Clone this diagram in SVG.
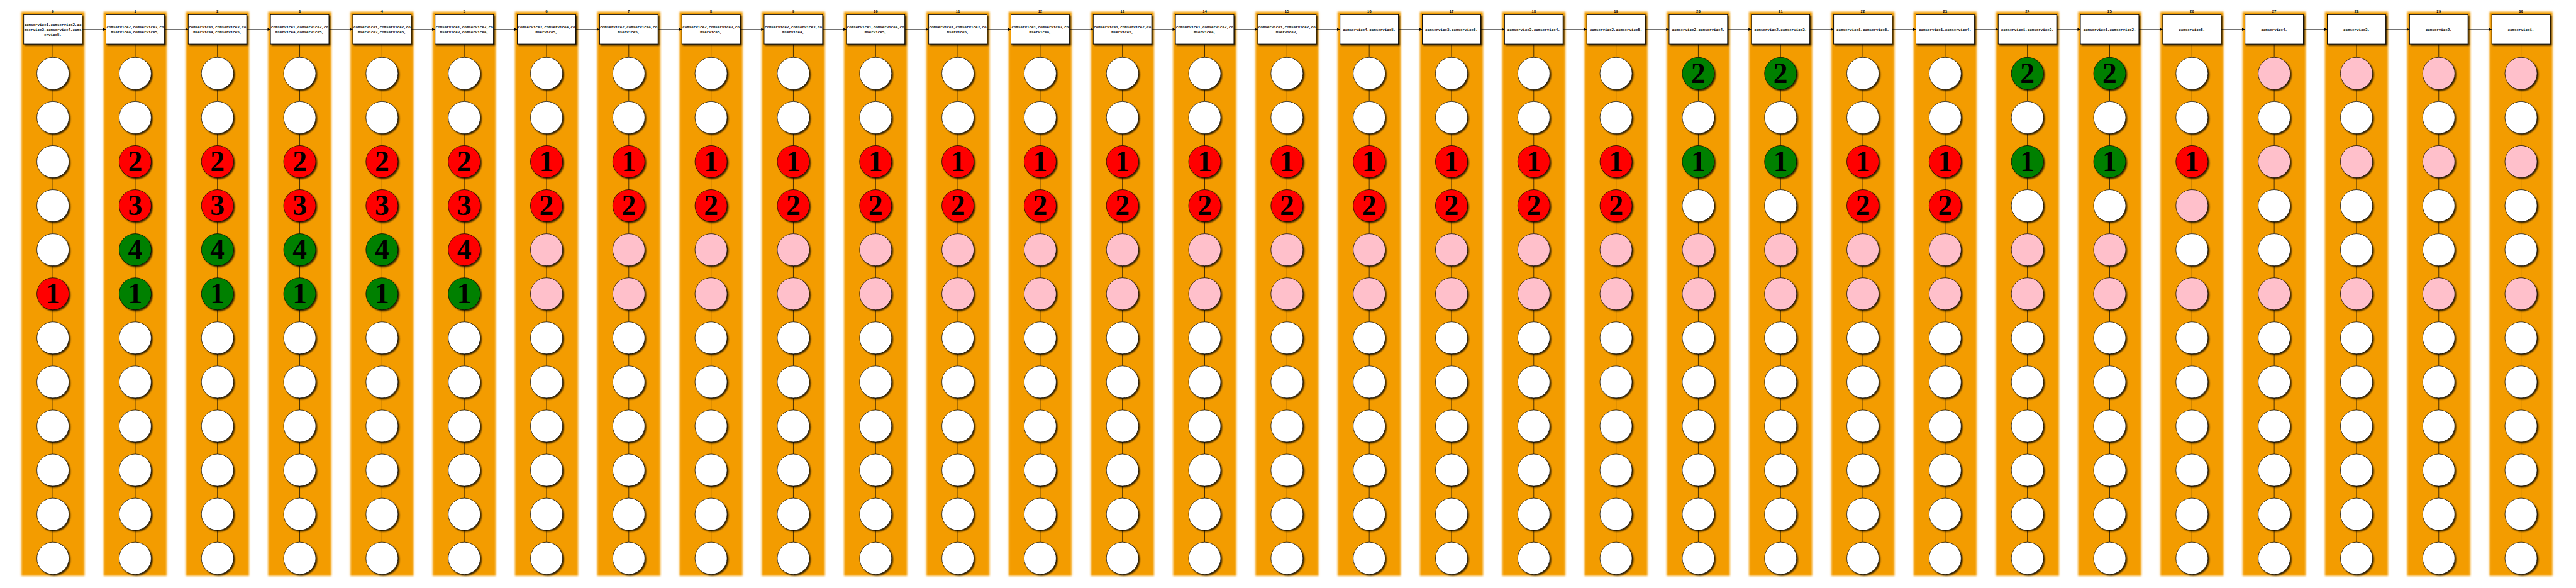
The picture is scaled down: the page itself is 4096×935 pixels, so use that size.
<svg xmlns="http://www.w3.org/2000/svg" width="4096" height="935" viewBox="0 0 4096 935">
<defs>
<style>
.band{fill:#f39c06;filter:url(#fb)}
.bx{fill:#fff;stroke:#000;stroke-width:1.5;filter:url(#sh)}
.ci{stroke:#000;stroke-width:1.2;filter:url(#sh)}
.w{fill:#fff}.r{fill:#f00}.g{fill:#008000}.p{fill:#ffc0cb}
.t{font-family:"Liberation Mono","DejaVu Sans Mono",monospace;font-weight:bold;font-size:10px;text-anchor:middle;fill:#000}
.d{font-family:"Liberation Serif","DejaVu Serif",serif;font-weight:bold;font-size:78px;text-anchor:middle;fill:#000}
#connectors line{stroke:#000;stroke-width:1.2;fill:none}
#connectors .ar{marker-end:url(#ah)}
</style>
<filter id="fb" x="-10%" y="-2%" width="120%" height="104%"><feGaussianBlur stdDeviation="2.5"/></filter>
<filter id="sh" x="-20%" y="-20%" width="150%" height="150%">
<feGaussianBlur in="SourceAlpha" stdDeviation="2"/><feOffset dx="3" dy="4" result="b"/>
<feFlood flood-color="#000" flood-opacity="0.75"/><feComposite in2="b" operator="in"/>
<feMerge><feMergeNode/><feMergeNode in="SourceGraphic"/></feMerge>
</filter>
<marker id="ah" markerUnits="userSpaceOnUse" markerWidth="9" markerHeight="9" refX="8" refY="4" orient="auto"><path d="M0,0L8,4L0,8z" fill="#000"/></marker>
</defs>
<rect width="4096" height="935" fill="#fff"/>
<g transform="scale(0.584)">
<g id="bands">
<rect class="band" x="58" y="32" width="172" height="1536"/>
<rect class="band" x="282" y="32" width="172" height="1536"/>
<rect class="band" x="506" y="32" width="172" height="1536"/>
<rect class="band" x="730" y="32" width="172" height="1536"/>
<rect class="band" x="954" y="32" width="172" height="1536"/>
<rect class="band" x="1178" y="32" width="172" height="1536"/>
<rect class="band" x="1402" y="32" width="172" height="1536"/>
<rect class="band" x="1626" y="32" width="172" height="1536"/>
<rect class="band" x="1850" y="32" width="172" height="1536"/>
<rect class="band" x="2074" y="32" width="172" height="1536"/>
<rect class="band" x="2298" y="32" width="172" height="1536"/>
<rect class="band" x="2522" y="32" width="172" height="1536"/>
<rect class="band" x="2746" y="32" width="172" height="1536"/>
<rect class="band" x="2970" y="32" width="172" height="1536"/>
<rect class="band" x="3194" y="32" width="172" height="1536"/>
<rect class="band" x="3418" y="32" width="172" height="1536"/>
<rect class="band" x="3642" y="32" width="172" height="1536"/>
<rect class="band" x="3866" y="32" width="172" height="1536"/>
<rect class="band" x="4090" y="32" width="172" height="1536"/>
<rect class="band" x="4314" y="32" width="172" height="1536"/>
<rect class="band" x="4538" y="32" width="172" height="1536"/>
<rect class="band" x="4762" y="32" width="172" height="1536"/>
<rect class="band" x="4986" y="32" width="172" height="1536"/>
<rect class="band" x="5210" y="32" width="172" height="1536"/>
<rect class="band" x="5434" y="32" width="172" height="1536"/>
<rect class="band" x="5658" y="32" width="172" height="1536"/>
<rect class="band" x="5882" y="32" width="172" height="1536"/>
<rect class="band" x="6106" y="32" width="172" height="1536"/>
<rect class="band" x="6330" y="32" width="172" height="1536"/>
<rect class="band" x="6554" y="32" width="172" height="1536"/>
<rect class="band" x="6778" y="32" width="172" height="1536"/>
</g>
<g id="labels">
<text class="t" x="144" y="34">0</text><text class="t" x="368" y="34">1</text><text class="t" x="592" y="34">2</text><text class="t" x="816" y="34">3</text><text class="t" x="1040" y="34">4</text><text class="t" x="1264" y="34">5</text><text class="t" x="1488" y="34">6</text><text class="t" x="1712" y="34">7</text><text class="t" x="1936" y="34">8</text><text class="t" x="2160" y="34">9</text><text class="t" x="2384" y="34">10</text><text class="t" x="2608" y="34">11</text><text class="t" x="2832" y="34">12</text><text class="t" x="3056" y="34">13</text><text class="t" x="3280" y="34">14</text><text class="t" x="3504" y="34">15</text><text class="t" x="3728" y="34">16</text><text class="t" x="3952" y="34">17</text><text class="t" x="4176" y="34">18</text><text class="t" x="4400" y="34">19</text><text class="t" x="4624" y="34">20</text><text class="t" x="4848" y="34">21</text><text class="t" x="5072" y="34">22</text><text class="t" x="5296" y="34">23</text><text class="t" x="5520" y="34">24</text><text class="t" x="5744" y="34">25</text><text class="t" x="5968" y="34">26</text><text class="t" x="6192" y="34">27</text><text class="t" x="6416" y="34">28</text><text class="t" x="6640" y="34">29</text><text class="t" x="6864" y="34">30</text>
</g>
<g id="connectors">
<line x1="144" y1="120" x2="144" y2="1476"/><line x1="368" y1="120" x2="368" y2="1476"/><line x1="592" y1="120" x2="592" y2="1476"/><line x1="816" y1="120" x2="816" y2="1476"/><line x1="1040" y1="120" x2="1040" y2="1476"/><line x1="1264" y1="120" x2="1264" y2="1476"/><line x1="1488" y1="120" x2="1488" y2="1476"/><line x1="1712" y1="120" x2="1712" y2="1476"/><line x1="1936" y1="120" x2="1936" y2="1476"/><line x1="2160" y1="120" x2="2160" y2="1476"/><line x1="2384" y1="120" x2="2384" y2="1476"/><line x1="2608" y1="120" x2="2608" y2="1476"/><line x1="2832" y1="120" x2="2832" y2="1476"/><line x1="3056" y1="120" x2="3056" y2="1476"/><line x1="3280" y1="120" x2="3280" y2="1476"/><line x1="3504" y1="120" x2="3504" y2="1476"/><line x1="3728" y1="120" x2="3728" y2="1476"/><line x1="3952" y1="120" x2="3952" y2="1476"/><line x1="4176" y1="120" x2="4176" y2="1476"/><line x1="4400" y1="120" x2="4400" y2="1476"/><line x1="4624" y1="120" x2="4624" y2="1476"/><line x1="4848" y1="120" x2="4848" y2="1476"/><line x1="5072" y1="120" x2="5072" y2="1476"/><line x1="5296" y1="120" x2="5296" y2="1476"/><line x1="5520" y1="120" x2="5520" y2="1476"/><line x1="5744" y1="120" x2="5744" y2="1476"/><line x1="5968" y1="120" x2="5968" y2="1476"/><line x1="6192" y1="120" x2="6192" y2="1476"/><line x1="6416" y1="120" x2="6416" y2="1476"/><line x1="6640" y1="120" x2="6640" y2="1476"/><line x1="6864" y1="120" x2="6864" y2="1476"/>
<line class="ar" x1="223.5" y1="80" x2="288.5" y2="80"/><line class="ar" x1="447.5" y1="80" x2="512.5" y2="80"/><line class="ar" x1="671.5" y1="80" x2="736.5" y2="80"/><line class="ar" x1="895.5" y1="80" x2="960.5" y2="80"/><line class="ar" x1="1119.5" y1="80" x2="1184.5" y2="80"/><line class="ar" x1="1343.5" y1="80" x2="1408.5" y2="80"/><line class="ar" x1="1567.5" y1="80" x2="1632.5" y2="80"/><line class="ar" x1="1791.5" y1="80" x2="1856.5" y2="80"/><line class="ar" x1="2015.5" y1="80" x2="2080.5" y2="80"/><line class="ar" x1="2239.5" y1="80" x2="2304.5" y2="80"/><line class="ar" x1="2463.5" y1="80" x2="2528.5" y2="80"/><line class="ar" x1="2687.5" y1="80" x2="2752.5" y2="80"/><line class="ar" x1="2911.5" y1="80" x2="2976.5" y2="80"/><line class="ar" x1="3135.5" y1="80" x2="3200.5" y2="80"/><line class="ar" x1="3359.5" y1="80" x2="3424.5" y2="80"/><line class="ar" x1="3583.5" y1="80" x2="3648.5" y2="80"/><line class="ar" x1="3807.5" y1="80" x2="3872.5" y2="80"/><line class="ar" x1="4031.5" y1="80" x2="4096.5" y2="80"/><line class="ar" x1="4255.5" y1="80" x2="4320.5" y2="80"/><line class="ar" x1="4479.5" y1="80" x2="4544.5" y2="80"/><line class="ar" x1="4703.5" y1="80" x2="4768.5" y2="80"/><line class="ar" x1="4927.5" y1="80" x2="4992.5" y2="80"/><line class="ar" x1="5151.5" y1="80" x2="5216.5" y2="80"/><line class="ar" x1="5375.5" y1="80" x2="5440.5" y2="80"/><line class="ar" x1="5599.5" y1="80" x2="5664.5" y2="80"/><line class="ar" x1="5823.5" y1="80" x2="5888.5" y2="80"/><line class="ar" x1="6047.5" y1="80" x2="6112.5" y2="80"/><line class="ar" x1="6271.5" y1="80" x2="6336.5" y2="80"/><line class="ar" x1="6495.5" y1="80" x2="6560.5" y2="80"/><line class="ar" x1="6719.5" y1="80" x2="6784.5" y2="80"/>
</g>
<g id="nodes">
<g id="col0" transform="translate(144,0)">
<g id="box0"><rect class="bx" x="-79.5" y="40" width="159" height="80"/><text class="t" y="71">comservice1,comservice2,co</text><text class="t" y="84">mservice3,comservice4,coms</text><text class="t" y="97">ervice5,</text></g>
<g id="n0_0"><circle class="ci w" cy="200" r="43.7"/></g><g id="n0_1"><circle class="ci w" cy="320" r="43.7"/></g><g id="n0_2"><circle class="ci w" cy="440" r="43.7"/></g><g id="n0_3"><circle class="ci w" cy="560" r="43.7"/></g><g id="n0_4"><circle class="ci w" cy="680" r="43.7"/></g><g id="n0_5"><circle class="ci r" cy="800" r="43.7"/><text class="d" y="826">1</text></g>
<g id="n0_6"><circle class="ci w" cy="920" r="43.7"/></g><g id="n0_7"><circle class="ci w" cy="1040" r="43.7"/></g><g id="n0_8"><circle class="ci w" cy="1160" r="43.7"/></g><g id="n0_9"><circle class="ci w" cy="1280" r="43.7"/></g><g id="n0_10"><circle class="ci w" cy="1400" r="43.7"/></g><g id="n0_11"><circle class="ci w" cy="1520" r="43.7"/></g>
</g>
<g id="col1" transform="translate(368,0)">
<g id="box1"><rect class="bx" x="-79.5" y="40" width="159" height="80"/><text class="t" y="77.5">comservice2,comservice3,co</text><text class="t" y="90.5">mservice4,comservice5,</text></g>
<g id="n1_0"><circle class="ci w" cy="200" r="43.7"/></g><g id="n1_1"><circle class="ci w" cy="320" r="43.7"/></g><g id="n1_2"><circle class="ci r" cy="440" r="43.7"/><text class="d" y="466">2</text></g><g id="n1_3"><circle class="ci r" cy="560" r="43.7"/><text class="d" y="586">3</text></g><g id="n1_4"><circle class="ci g" cy="680" r="43.7"/><text class="d" y="706">4</text></g><g id="n1_5"><circle class="ci g" cy="800" r="43.7"/><text class="d" y="826">1</text></g>
<g id="n1_6"><circle class="ci w" cy="920" r="43.7"/></g><g id="n1_7"><circle class="ci w" cy="1040" r="43.7"/></g><g id="n1_8"><circle class="ci w" cy="1160" r="43.7"/></g><g id="n1_9"><circle class="ci w" cy="1280" r="43.7"/></g><g id="n1_10"><circle class="ci w" cy="1400" r="43.7"/></g><g id="n1_11"><circle class="ci w" cy="1520" r="43.7"/></g>
</g>
<g id="col2" transform="translate(592,0)">
<g id="box2"><rect class="bx" x="-79.5" y="40" width="159" height="80"/><text class="t" y="77.5">comservice1,comservice3,co</text><text class="t" y="90.5">mservice4,comservice5,</text></g>
<g id="n2_0"><circle class="ci w" cy="200" r="43.7"/></g><g id="n2_1"><circle class="ci w" cy="320" r="43.7"/></g><g id="n2_2"><circle class="ci r" cy="440" r="43.7"/><text class="d" y="466">2</text></g><g id="n2_3"><circle class="ci r" cy="560" r="43.7"/><text class="d" y="586">3</text></g><g id="n2_4"><circle class="ci g" cy="680" r="43.7"/><text class="d" y="706">4</text></g><g id="n2_5"><circle class="ci g" cy="800" r="43.7"/><text class="d" y="826">1</text></g>
<g id="n2_6"><circle class="ci w" cy="920" r="43.7"/></g><g id="n2_7"><circle class="ci w" cy="1040" r="43.7"/></g><g id="n2_8"><circle class="ci w" cy="1160" r="43.7"/></g><g id="n2_9"><circle class="ci w" cy="1280" r="43.7"/></g><g id="n2_10"><circle class="ci w" cy="1400" r="43.7"/></g><g id="n2_11"><circle class="ci w" cy="1520" r="43.7"/></g>
</g>
<g id="col3" transform="translate(816,0)">
<g id="box3"><rect class="bx" x="-79.5" y="40" width="159" height="80"/><text class="t" y="77.5">comservice1,comservice2,co</text><text class="t" y="90.5">mservice4,comservice5,</text></g>
<g id="n3_0"><circle class="ci w" cy="200" r="43.7"/></g><g id="n3_1"><circle class="ci w" cy="320" r="43.7"/></g><g id="n3_2"><circle class="ci r" cy="440" r="43.7"/><text class="d" y="466">2</text></g><g id="n3_3"><circle class="ci r" cy="560" r="43.7"/><text class="d" y="586">3</text></g><g id="n3_4"><circle class="ci g" cy="680" r="43.7"/><text class="d" y="706">4</text></g><g id="n3_5"><circle class="ci g" cy="800" r="43.7"/><text class="d" y="826">1</text></g>
<g id="n3_6"><circle class="ci w" cy="920" r="43.7"/></g><g id="n3_7"><circle class="ci w" cy="1040" r="43.7"/></g><g id="n3_8"><circle class="ci w" cy="1160" r="43.7"/></g><g id="n3_9"><circle class="ci w" cy="1280" r="43.7"/></g><g id="n3_10"><circle class="ci w" cy="1400" r="43.7"/></g><g id="n3_11"><circle class="ci w" cy="1520" r="43.7"/></g>
</g>
<g id="col4" transform="translate(1040,0)">
<g id="box4"><rect class="bx" x="-79.5" y="40" width="159" height="80"/><text class="t" y="77.5">comservice1,comservice2,co</text><text class="t" y="90.5">mservice3,comservice5,</text></g>
<g id="n4_0"><circle class="ci w" cy="200" r="43.7"/></g><g id="n4_1"><circle class="ci w" cy="320" r="43.7"/></g><g id="n4_2"><circle class="ci r" cy="440" r="43.7"/><text class="d" y="466">2</text></g><g id="n4_3"><circle class="ci r" cy="560" r="43.7"/><text class="d" y="586">3</text></g><g id="n4_4"><circle class="ci g" cy="680" r="43.7"/><text class="d" y="706">4</text></g><g id="n4_5"><circle class="ci g" cy="800" r="43.7"/><text class="d" y="826">1</text></g>
<g id="n4_6"><circle class="ci w" cy="920" r="43.7"/></g><g id="n4_7"><circle class="ci w" cy="1040" r="43.7"/></g><g id="n4_8"><circle class="ci w" cy="1160" r="43.7"/></g><g id="n4_9"><circle class="ci w" cy="1280" r="43.7"/></g><g id="n4_10"><circle class="ci w" cy="1400" r="43.7"/></g><g id="n4_11"><circle class="ci w" cy="1520" r="43.7"/></g>
</g>
<g id="col5" transform="translate(1264,0)">
<g id="box5"><rect class="bx" x="-79.5" y="40" width="159" height="80"/><text class="t" y="77.5">comservice1,comservice2,co</text><text class="t" y="90.5">mservice3,comservice4,</text></g>
<g id="n5_0"><circle class="ci w" cy="200" r="43.7"/></g><g id="n5_1"><circle class="ci w" cy="320" r="43.7"/></g><g id="n5_2"><circle class="ci r" cy="440" r="43.7"/><text class="d" y="466">2</text></g><g id="n5_3"><circle class="ci r" cy="560" r="43.7"/><text class="d" y="586">3</text></g><g id="n5_4"><circle class="ci r" cy="680" r="43.7"/><text class="d" y="706">4</text></g><g id="n5_5"><circle class="ci g" cy="800" r="43.7"/><text class="d" y="826">1</text></g>
<g id="n5_6"><circle class="ci w" cy="920" r="43.7"/></g><g id="n5_7"><circle class="ci w" cy="1040" r="43.7"/></g><g id="n5_8"><circle class="ci w" cy="1160" r="43.7"/></g><g id="n5_9"><circle class="ci w" cy="1280" r="43.7"/></g><g id="n5_10"><circle class="ci w" cy="1400" r="43.7"/></g><g id="n5_11"><circle class="ci w" cy="1520" r="43.7"/></g>
</g>
<g id="col6" transform="translate(1488,0)">
<g id="box6"><rect class="bx" x="-79.5" y="40" width="159" height="80"/><text class="t" y="77.5">comservice3,comservice4,co</text><text class="t" y="90.5">mservice5,</text></g>
<g id="n6_0"><circle class="ci w" cy="200" r="43.7"/></g><g id="n6_1"><circle class="ci w" cy="320" r="43.7"/></g><g id="n6_2"><circle class="ci r" cy="440" r="43.7"/><text class="d" y="466">1</text></g><g id="n6_3"><circle class="ci r" cy="560" r="43.7"/><text class="d" y="586">2</text></g><g id="n6_4"><circle class="ci p" cy="680" r="43.7"/></g><g id="n6_5"><circle class="ci p" cy="800" r="43.7"/></g>
<g id="n6_6"><circle class="ci w" cy="920" r="43.7"/></g><g id="n6_7"><circle class="ci w" cy="1040" r="43.7"/></g><g id="n6_8"><circle class="ci w" cy="1160" r="43.7"/></g><g id="n6_9"><circle class="ci w" cy="1280" r="43.7"/></g><g id="n6_10"><circle class="ci w" cy="1400" r="43.7"/></g><g id="n6_11"><circle class="ci w" cy="1520" r="43.7"/></g>
</g>
<g id="col7" transform="translate(1712,0)">
<g id="box7"><rect class="bx" x="-79.5" y="40" width="159" height="80"/><text class="t" y="77.5">comservice2,comservice4,co</text><text class="t" y="90.5">mservice5,</text></g>
<g id="n7_0"><circle class="ci w" cy="200" r="43.7"/></g><g id="n7_1"><circle class="ci w" cy="320" r="43.7"/></g><g id="n7_2"><circle class="ci r" cy="440" r="43.7"/><text class="d" y="466">1</text></g><g id="n7_3"><circle class="ci r" cy="560" r="43.7"/><text class="d" y="586">2</text></g><g id="n7_4"><circle class="ci p" cy="680" r="43.7"/></g><g id="n7_5"><circle class="ci p" cy="800" r="43.7"/></g>
<g id="n7_6"><circle class="ci w" cy="920" r="43.7"/></g><g id="n7_7"><circle class="ci w" cy="1040" r="43.7"/></g><g id="n7_8"><circle class="ci w" cy="1160" r="43.7"/></g><g id="n7_9"><circle class="ci w" cy="1280" r="43.7"/></g><g id="n7_10"><circle class="ci w" cy="1400" r="43.7"/></g><g id="n7_11"><circle class="ci w" cy="1520" r="43.7"/></g>
</g>
<g id="col8" transform="translate(1936,0)">
<g id="box8"><rect class="bx" x="-79.5" y="40" width="159" height="80"/><text class="t" y="77.5">comservice2,comservice3,co</text><text class="t" y="90.5">mservice5,</text></g>
<g id="n8_0"><circle class="ci w" cy="200" r="43.7"/></g><g id="n8_1"><circle class="ci w" cy="320" r="43.7"/></g><g id="n8_2"><circle class="ci r" cy="440" r="43.7"/><text class="d" y="466">1</text></g><g id="n8_3"><circle class="ci r" cy="560" r="43.7"/><text class="d" y="586">2</text></g><g id="n8_4"><circle class="ci p" cy="680" r="43.7"/></g><g id="n8_5"><circle class="ci p" cy="800" r="43.7"/></g>
<g id="n8_6"><circle class="ci w" cy="920" r="43.7"/></g><g id="n8_7"><circle class="ci w" cy="1040" r="43.7"/></g><g id="n8_8"><circle class="ci w" cy="1160" r="43.7"/></g><g id="n8_9"><circle class="ci w" cy="1280" r="43.7"/></g><g id="n8_10"><circle class="ci w" cy="1400" r="43.7"/></g><g id="n8_11"><circle class="ci w" cy="1520" r="43.7"/></g>
</g>
<g id="col9" transform="translate(2160,0)">
<g id="box9"><rect class="bx" x="-79.5" y="40" width="159" height="80"/><text class="t" y="77.5">comservice2,comservice3,co</text><text class="t" y="90.5">mservice4,</text></g>
<g id="n9_0"><circle class="ci w" cy="200" r="43.7"/></g><g id="n9_1"><circle class="ci w" cy="320" r="43.7"/></g><g id="n9_2"><circle class="ci r" cy="440" r="43.7"/><text class="d" y="466">1</text></g><g id="n9_3"><circle class="ci r" cy="560" r="43.7"/><text class="d" y="586">2</text></g><g id="n9_4"><circle class="ci p" cy="680" r="43.7"/></g><g id="n9_5"><circle class="ci p" cy="800" r="43.7"/></g>
<g id="n9_6"><circle class="ci w" cy="920" r="43.7"/></g><g id="n9_7"><circle class="ci w" cy="1040" r="43.7"/></g><g id="n9_8"><circle class="ci w" cy="1160" r="43.7"/></g><g id="n9_9"><circle class="ci w" cy="1280" r="43.7"/></g><g id="n9_10"><circle class="ci w" cy="1400" r="43.7"/></g><g id="n9_11"><circle class="ci w" cy="1520" r="43.7"/></g>
</g>
<g id="col10" transform="translate(2384,0)">
<g id="box10"><rect class="bx" x="-79.5" y="40" width="159" height="80"/><text class="t" y="77.5">comservice1,comservice4,co</text><text class="t" y="90.5">mservice5,</text></g>
<g id="n10_0"><circle class="ci w" cy="200" r="43.7"/></g><g id="n10_1"><circle class="ci w" cy="320" r="43.7"/></g><g id="n10_2"><circle class="ci r" cy="440" r="43.7"/><text class="d" y="466">1</text></g><g id="n10_3"><circle class="ci r" cy="560" r="43.7"/><text class="d" y="586">2</text></g><g id="n10_4"><circle class="ci p" cy="680" r="43.7"/></g><g id="n10_5"><circle class="ci p" cy="800" r="43.7"/></g>
<g id="n10_6"><circle class="ci w" cy="920" r="43.7"/></g><g id="n10_7"><circle class="ci w" cy="1040" r="43.7"/></g><g id="n10_8"><circle class="ci w" cy="1160" r="43.7"/></g><g id="n10_9"><circle class="ci w" cy="1280" r="43.7"/></g><g id="n10_10"><circle class="ci w" cy="1400" r="43.7"/></g><g id="n10_11"><circle class="ci w" cy="1520" r="43.7"/></g>
</g>
<g id="col11" transform="translate(2608,0)">
<g id="box11"><rect class="bx" x="-79.5" y="40" width="159" height="80"/><text class="t" y="77.5">comservice1,comservice3,co</text><text class="t" y="90.5">mservice5,</text></g>
<g id="n11_0"><circle class="ci w" cy="200" r="43.7"/></g><g id="n11_1"><circle class="ci w" cy="320" r="43.7"/></g><g id="n11_2"><circle class="ci r" cy="440" r="43.7"/><text class="d" y="466">1</text></g><g id="n11_3"><circle class="ci r" cy="560" r="43.7"/><text class="d" y="586">2</text></g><g id="n11_4"><circle class="ci p" cy="680" r="43.7"/></g><g id="n11_5"><circle class="ci p" cy="800" r="43.7"/></g>
<g id="n11_6"><circle class="ci w" cy="920" r="43.7"/></g><g id="n11_7"><circle class="ci w" cy="1040" r="43.7"/></g><g id="n11_8"><circle class="ci w" cy="1160" r="43.7"/></g><g id="n11_9"><circle class="ci w" cy="1280" r="43.7"/></g><g id="n11_10"><circle class="ci w" cy="1400" r="43.7"/></g><g id="n11_11"><circle class="ci w" cy="1520" r="43.7"/></g>
</g>
<g id="col12" transform="translate(2832,0)">
<g id="box12"><rect class="bx" x="-79.5" y="40" width="159" height="80"/><text class="t" y="77.5">comservice1,comservice3,co</text><text class="t" y="90.5">mservice4,</text></g>
<g id="n12_0"><circle class="ci w" cy="200" r="43.7"/></g><g id="n12_1"><circle class="ci w" cy="320" r="43.7"/></g><g id="n12_2"><circle class="ci r" cy="440" r="43.7"/><text class="d" y="466">1</text></g><g id="n12_3"><circle class="ci r" cy="560" r="43.7"/><text class="d" y="586">2</text></g><g id="n12_4"><circle class="ci p" cy="680" r="43.7"/></g><g id="n12_5"><circle class="ci p" cy="800" r="43.7"/></g>
<g id="n12_6"><circle class="ci w" cy="920" r="43.7"/></g><g id="n12_7"><circle class="ci w" cy="1040" r="43.7"/></g><g id="n12_8"><circle class="ci w" cy="1160" r="43.7"/></g><g id="n12_9"><circle class="ci w" cy="1280" r="43.7"/></g><g id="n12_10"><circle class="ci w" cy="1400" r="43.7"/></g><g id="n12_11"><circle class="ci w" cy="1520" r="43.7"/></g>
</g>
<g id="col13" transform="translate(3056,0)">
<g id="box13"><rect class="bx" x="-79.5" y="40" width="159" height="80"/><text class="t" y="77.5">comservice1,comservice2,co</text><text class="t" y="90.5">mservice5,</text></g>
<g id="n13_0"><circle class="ci w" cy="200" r="43.7"/></g><g id="n13_1"><circle class="ci w" cy="320" r="43.7"/></g><g id="n13_2"><circle class="ci r" cy="440" r="43.7"/><text class="d" y="466">1</text></g><g id="n13_3"><circle class="ci r" cy="560" r="43.7"/><text class="d" y="586">2</text></g><g id="n13_4"><circle class="ci p" cy="680" r="43.7"/></g><g id="n13_5"><circle class="ci p" cy="800" r="43.7"/></g>
<g id="n13_6"><circle class="ci w" cy="920" r="43.7"/></g><g id="n13_7"><circle class="ci w" cy="1040" r="43.7"/></g><g id="n13_8"><circle class="ci w" cy="1160" r="43.7"/></g><g id="n13_9"><circle class="ci w" cy="1280" r="43.7"/></g><g id="n13_10"><circle class="ci w" cy="1400" r="43.7"/></g><g id="n13_11"><circle class="ci w" cy="1520" r="43.7"/></g>
</g>
<g id="col14" transform="translate(3280,0)">
<g id="box14"><rect class="bx" x="-79.5" y="40" width="159" height="80"/><text class="t" y="77.5">comservice1,comservice2,co</text><text class="t" y="90.5">mservice4,</text></g>
<g id="n14_0"><circle class="ci w" cy="200" r="43.7"/></g><g id="n14_1"><circle class="ci w" cy="320" r="43.7"/></g><g id="n14_2"><circle class="ci r" cy="440" r="43.7"/><text class="d" y="466">1</text></g><g id="n14_3"><circle class="ci r" cy="560" r="43.7"/><text class="d" y="586">2</text></g><g id="n14_4"><circle class="ci p" cy="680" r="43.7"/></g><g id="n14_5"><circle class="ci p" cy="800" r="43.7"/></g>
<g id="n14_6"><circle class="ci w" cy="920" r="43.7"/></g><g id="n14_7"><circle class="ci w" cy="1040" r="43.7"/></g><g id="n14_8"><circle class="ci w" cy="1160" r="43.7"/></g><g id="n14_9"><circle class="ci w" cy="1280" r="43.7"/></g><g id="n14_10"><circle class="ci w" cy="1400" r="43.7"/></g><g id="n14_11"><circle class="ci w" cy="1520" r="43.7"/></g>
</g>
<g id="col15" transform="translate(3504,0)">
<g id="box15"><rect class="bx" x="-79.5" y="40" width="159" height="80"/><text class="t" y="77.5">comservice1,comservice2,co</text><text class="t" y="90.5">mservice3,</text></g>
<g id="n15_0"><circle class="ci w" cy="200" r="43.7"/></g><g id="n15_1"><circle class="ci w" cy="320" r="43.7"/></g><g id="n15_2"><circle class="ci r" cy="440" r="43.7"/><text class="d" y="466">1</text></g><g id="n15_3"><circle class="ci r" cy="560" r="43.7"/><text class="d" y="586">2</text></g><g id="n15_4"><circle class="ci p" cy="680" r="43.7"/></g><g id="n15_5"><circle class="ci p" cy="800" r="43.7"/></g>
<g id="n15_6"><circle class="ci w" cy="920" r="43.7"/></g><g id="n15_7"><circle class="ci w" cy="1040" r="43.7"/></g><g id="n15_8"><circle class="ci w" cy="1160" r="43.7"/></g><g id="n15_9"><circle class="ci w" cy="1280" r="43.7"/></g><g id="n15_10"><circle class="ci w" cy="1400" r="43.7"/></g><g id="n15_11"><circle class="ci w" cy="1520" r="43.7"/></g>
</g>
<g id="col16" transform="translate(3728,0)">
<g id="box16"><rect class="bx" x="-79.5" y="40" width="159" height="80"/><text class="t" y="84">comservice4,comservice5,</text></g>
<g id="n16_0"><circle class="ci w" cy="200" r="43.7"/></g><g id="n16_1"><circle class="ci w" cy="320" r="43.7"/></g><g id="n16_2"><circle class="ci r" cy="440" r="43.7"/><text class="d" y="466">1</text></g><g id="n16_3"><circle class="ci r" cy="560" r="43.7"/><text class="d" y="586">2</text></g><g id="n16_4"><circle class="ci p" cy="680" r="43.7"/></g><g id="n16_5"><circle class="ci p" cy="800" r="43.7"/></g>
<g id="n16_6"><circle class="ci w" cy="920" r="43.7"/></g><g id="n16_7"><circle class="ci w" cy="1040" r="43.7"/></g><g id="n16_8"><circle class="ci w" cy="1160" r="43.7"/></g><g id="n16_9"><circle class="ci w" cy="1280" r="43.7"/></g><g id="n16_10"><circle class="ci w" cy="1400" r="43.7"/></g><g id="n16_11"><circle class="ci w" cy="1520" r="43.7"/></g>
</g>
<g id="col17" transform="translate(3952,0)">
<g id="box17"><rect class="bx" x="-79.5" y="40" width="159" height="80"/><text class="t" y="84">comservice3,comservice5,</text></g>
<g id="n17_0"><circle class="ci w" cy="200" r="43.7"/></g><g id="n17_1"><circle class="ci w" cy="320" r="43.7"/></g><g id="n17_2"><circle class="ci r" cy="440" r="43.7"/><text class="d" y="466">1</text></g><g id="n17_3"><circle class="ci r" cy="560" r="43.7"/><text class="d" y="586">2</text></g><g id="n17_4"><circle class="ci p" cy="680" r="43.7"/></g><g id="n17_5"><circle class="ci p" cy="800" r="43.7"/></g>
<g id="n17_6"><circle class="ci w" cy="920" r="43.7"/></g><g id="n17_7"><circle class="ci w" cy="1040" r="43.7"/></g><g id="n17_8"><circle class="ci w" cy="1160" r="43.7"/></g><g id="n17_9"><circle class="ci w" cy="1280" r="43.7"/></g><g id="n17_10"><circle class="ci w" cy="1400" r="43.7"/></g><g id="n17_11"><circle class="ci w" cy="1520" r="43.7"/></g>
</g>
<g id="col18" transform="translate(4176,0)">
<g id="box18"><rect class="bx" x="-79.5" y="40" width="159" height="80"/><text class="t" y="84">comservice3,comservice4,</text></g>
<g id="n18_0"><circle class="ci w" cy="200" r="43.7"/></g><g id="n18_1"><circle class="ci w" cy="320" r="43.7"/></g><g id="n18_2"><circle class="ci r" cy="440" r="43.7"/><text class="d" y="466">1</text></g><g id="n18_3"><circle class="ci r" cy="560" r="43.7"/><text class="d" y="586">2</text></g><g id="n18_4"><circle class="ci p" cy="680" r="43.7"/></g><g id="n18_5"><circle class="ci p" cy="800" r="43.7"/></g>
<g id="n18_6"><circle class="ci w" cy="920" r="43.7"/></g><g id="n18_7"><circle class="ci w" cy="1040" r="43.7"/></g><g id="n18_8"><circle class="ci w" cy="1160" r="43.7"/></g><g id="n18_9"><circle class="ci w" cy="1280" r="43.7"/></g><g id="n18_10"><circle class="ci w" cy="1400" r="43.7"/></g><g id="n18_11"><circle class="ci w" cy="1520" r="43.7"/></g>
</g>
<g id="col19" transform="translate(4400,0)">
<g id="box19"><rect class="bx" x="-79.5" y="40" width="159" height="80"/><text class="t" y="84">comservice2,comservice5,</text></g>
<g id="n19_0"><circle class="ci w" cy="200" r="43.7"/></g><g id="n19_1"><circle class="ci w" cy="320" r="43.7"/></g><g id="n19_2"><circle class="ci r" cy="440" r="43.7"/><text class="d" y="466">1</text></g><g id="n19_3"><circle class="ci r" cy="560" r="43.7"/><text class="d" y="586">2</text></g><g id="n19_4"><circle class="ci p" cy="680" r="43.7"/></g><g id="n19_5"><circle class="ci p" cy="800" r="43.7"/></g>
<g id="n19_6"><circle class="ci w" cy="920" r="43.7"/></g><g id="n19_7"><circle class="ci w" cy="1040" r="43.7"/></g><g id="n19_8"><circle class="ci w" cy="1160" r="43.7"/></g><g id="n19_9"><circle class="ci w" cy="1280" r="43.7"/></g><g id="n19_10"><circle class="ci w" cy="1400" r="43.7"/></g><g id="n19_11"><circle class="ci w" cy="1520" r="43.7"/></g>
</g>
<g id="col20" transform="translate(4624,0)">
<g id="box20"><rect class="bx" x="-79.5" y="40" width="159" height="80"/><text class="t" y="84">comservice2,comservice4,</text></g>
<g id="n20_0"><circle class="ci g" cy="200" r="43.7"/><text class="d" y="226">2</text></g><g id="n20_1"><circle class="ci w" cy="320" r="43.7"/></g><g id="n20_2"><circle class="ci g" cy="440" r="43.7"/><text class="d" y="466">1</text></g><g id="n20_3"><circle class="ci w" cy="560" r="43.7"/></g><g id="n20_4"><circle class="ci p" cy="680" r="43.7"/></g><g id="n20_5"><circle class="ci p" cy="800" r="43.7"/></g>
<g id="n20_6"><circle class="ci w" cy="920" r="43.7"/></g><g id="n20_7"><circle class="ci w" cy="1040" r="43.7"/></g><g id="n20_8"><circle class="ci w" cy="1160" r="43.7"/></g><g id="n20_9"><circle class="ci w" cy="1280" r="43.7"/></g><g id="n20_10"><circle class="ci w" cy="1400" r="43.7"/></g><g id="n20_11"><circle class="ci w" cy="1520" r="43.7"/></g>
</g>
<g id="col21" transform="translate(4848,0)">
<g id="box21"><rect class="bx" x="-79.5" y="40" width="159" height="80"/><text class="t" y="84">comservice2,comservice3,</text></g>
<g id="n21_0"><circle class="ci g" cy="200" r="43.7"/><text class="d" y="226">2</text></g><g id="n21_1"><circle class="ci w" cy="320" r="43.7"/></g><g id="n21_2"><circle class="ci g" cy="440" r="43.7"/><text class="d" y="466">1</text></g><g id="n21_3"><circle class="ci w" cy="560" r="43.7"/></g><g id="n21_4"><circle class="ci p" cy="680" r="43.7"/></g><g id="n21_5"><circle class="ci p" cy="800" r="43.7"/></g>
<g id="n21_6"><circle class="ci w" cy="920" r="43.7"/></g><g id="n21_7"><circle class="ci w" cy="1040" r="43.7"/></g><g id="n21_8"><circle class="ci w" cy="1160" r="43.7"/></g><g id="n21_9"><circle class="ci w" cy="1280" r="43.7"/></g><g id="n21_10"><circle class="ci w" cy="1400" r="43.7"/></g><g id="n21_11"><circle class="ci w" cy="1520" r="43.7"/></g>
</g>
<g id="col22" transform="translate(5072,0)">
<g id="box22"><rect class="bx" x="-79.5" y="40" width="159" height="80"/><text class="t" y="84">comservice1,comservice5,</text></g>
<g id="n22_0"><circle class="ci w" cy="200" r="43.7"/></g><g id="n22_1"><circle class="ci w" cy="320" r="43.7"/></g><g id="n22_2"><circle class="ci r" cy="440" r="43.7"/><text class="d" y="466">1</text></g><g id="n22_3"><circle class="ci r" cy="560" r="43.7"/><text class="d" y="586">2</text></g><g id="n22_4"><circle class="ci p" cy="680" r="43.7"/></g><g id="n22_5"><circle class="ci p" cy="800" r="43.7"/></g>
<g id="n22_6"><circle class="ci w" cy="920" r="43.7"/></g><g id="n22_7"><circle class="ci w" cy="1040" r="43.7"/></g><g id="n22_8"><circle class="ci w" cy="1160" r="43.7"/></g><g id="n22_9"><circle class="ci w" cy="1280" r="43.7"/></g><g id="n22_10"><circle class="ci w" cy="1400" r="43.7"/></g><g id="n22_11"><circle class="ci w" cy="1520" r="43.7"/></g>
</g>
<g id="col23" transform="translate(5296,0)">
<g id="box23"><rect class="bx" x="-79.5" y="40" width="159" height="80"/><text class="t" y="84">comservice1,comservice4,</text></g>
<g id="n23_0"><circle class="ci w" cy="200" r="43.7"/></g><g id="n23_1"><circle class="ci w" cy="320" r="43.7"/></g><g id="n23_2"><circle class="ci r" cy="440" r="43.7"/><text class="d" y="466">1</text></g><g id="n23_3"><circle class="ci r" cy="560" r="43.7"/><text class="d" y="586">2</text></g><g id="n23_4"><circle class="ci p" cy="680" r="43.7"/></g><g id="n23_5"><circle class="ci p" cy="800" r="43.7"/></g>
<g id="n23_6"><circle class="ci w" cy="920" r="43.7"/></g><g id="n23_7"><circle class="ci w" cy="1040" r="43.7"/></g><g id="n23_8"><circle class="ci w" cy="1160" r="43.7"/></g><g id="n23_9"><circle class="ci w" cy="1280" r="43.7"/></g><g id="n23_10"><circle class="ci w" cy="1400" r="43.7"/></g><g id="n23_11"><circle class="ci w" cy="1520" r="43.7"/></g>
</g>
<g id="col24" transform="translate(5520,0)">
<g id="box24"><rect class="bx" x="-79.5" y="40" width="159" height="80"/><text class="t" y="84">comservice1,comservice3,</text></g>
<g id="n24_0"><circle class="ci g" cy="200" r="43.7"/><text class="d" y="226">2</text></g><g id="n24_1"><circle class="ci w" cy="320" r="43.7"/></g><g id="n24_2"><circle class="ci g" cy="440" r="43.7"/><text class="d" y="466">1</text></g><g id="n24_3"><circle class="ci w" cy="560" r="43.7"/></g><g id="n24_4"><circle class="ci p" cy="680" r="43.7"/></g><g id="n24_5"><circle class="ci p" cy="800" r="43.7"/></g>
<g id="n24_6"><circle class="ci w" cy="920" r="43.7"/></g><g id="n24_7"><circle class="ci w" cy="1040" r="43.7"/></g><g id="n24_8"><circle class="ci w" cy="1160" r="43.7"/></g><g id="n24_9"><circle class="ci w" cy="1280" r="43.7"/></g><g id="n24_10"><circle class="ci w" cy="1400" r="43.7"/></g><g id="n24_11"><circle class="ci w" cy="1520" r="43.7"/></g>
</g>
<g id="col25" transform="translate(5744,0)">
<g id="box25"><rect class="bx" x="-79.5" y="40" width="159" height="80"/><text class="t" y="84">comservice1,comservice2,</text></g>
<g id="n25_0"><circle class="ci g" cy="200" r="43.7"/><text class="d" y="226">2</text></g><g id="n25_1"><circle class="ci w" cy="320" r="43.7"/></g><g id="n25_2"><circle class="ci g" cy="440" r="43.7"/><text class="d" y="466">1</text></g><g id="n25_3"><circle class="ci w" cy="560" r="43.7"/></g><g id="n25_4"><circle class="ci p" cy="680" r="43.7"/></g><g id="n25_5"><circle class="ci p" cy="800" r="43.7"/></g>
<g id="n25_6"><circle class="ci w" cy="920" r="43.7"/></g><g id="n25_7"><circle class="ci w" cy="1040" r="43.7"/></g><g id="n25_8"><circle class="ci w" cy="1160" r="43.7"/></g><g id="n25_9"><circle class="ci w" cy="1280" r="43.7"/></g><g id="n25_10"><circle class="ci w" cy="1400" r="43.7"/></g><g id="n25_11"><circle class="ci w" cy="1520" r="43.7"/></g>
</g>
<g id="col26" transform="translate(5968,0)">
<g id="box26"><rect class="bx" x="-79.5" y="40" width="159" height="80"/><text class="t" y="84">comservice5,</text></g>
<g id="n26_0"><circle class="ci w" cy="200" r="43.7"/></g><g id="n26_1"><circle class="ci w" cy="320" r="43.7"/></g><g id="n26_2"><circle class="ci r" cy="440" r="43.7"/><text class="d" y="466">1</text></g><g id="n26_3"><circle class="ci p" cy="560" r="43.7"/></g><g id="n26_4"><circle class="ci w" cy="680" r="43.7"/></g><g id="n26_5"><circle class="ci p" cy="800" r="43.7"/></g>
<g id="n26_6"><circle class="ci w" cy="920" r="43.7"/></g><g id="n26_7"><circle class="ci w" cy="1040" r="43.7"/></g><g id="n26_8"><circle class="ci w" cy="1160" r="43.7"/></g><g id="n26_9"><circle class="ci w" cy="1280" r="43.7"/></g><g id="n26_10"><circle class="ci w" cy="1400" r="43.7"/></g><g id="n26_11"><circle class="ci w" cy="1520" r="43.7"/></g>
</g>
<g id="col27" transform="translate(6192,0)">
<g id="box27"><rect class="bx" x="-79.5" y="40" width="159" height="80"/><text class="t" y="84">comservice4,</text></g>
<g id="n27_0"><circle class="ci p" cy="200" r="43.7"/></g><g id="n27_1"><circle class="ci w" cy="320" r="43.7"/></g><g id="n27_2"><circle class="ci p" cy="440" r="43.7"/></g><g id="n27_3"><circle class="ci w" cy="560" r="43.7"/></g><g id="n27_4"><circle class="ci w" cy="680" r="43.7"/></g><g id="n27_5"><circle class="ci p" cy="800" r="43.7"/></g>
<g id="n27_6"><circle class="ci w" cy="920" r="43.7"/></g><g id="n27_7"><circle class="ci w" cy="1040" r="43.7"/></g><g id="n27_8"><circle class="ci w" cy="1160" r="43.7"/></g><g id="n27_9"><circle class="ci w" cy="1280" r="43.7"/></g><g id="n27_10"><circle class="ci w" cy="1400" r="43.7"/></g><g id="n27_11"><circle class="ci w" cy="1520" r="43.7"/></g>
</g>
<g id="col28" transform="translate(6416,0)">
<g id="box28"><rect class="bx" x="-79.5" y="40" width="159" height="80"/><text class="t" y="84">comservice3,</text></g>
<g id="n28_0"><circle class="ci p" cy="200" r="43.7"/></g><g id="n28_1"><circle class="ci w" cy="320" r="43.7"/></g><g id="n28_2"><circle class="ci p" cy="440" r="43.7"/></g><g id="n28_3"><circle class="ci w" cy="560" r="43.7"/></g><g id="n28_4"><circle class="ci w" cy="680" r="43.7"/></g><g id="n28_5"><circle class="ci p" cy="800" r="43.7"/></g>
<g id="n28_6"><circle class="ci w" cy="920" r="43.7"/></g><g id="n28_7"><circle class="ci w" cy="1040" r="43.7"/></g><g id="n28_8"><circle class="ci w" cy="1160" r="43.7"/></g><g id="n28_9"><circle class="ci w" cy="1280" r="43.7"/></g><g id="n28_10"><circle class="ci w" cy="1400" r="43.7"/></g><g id="n28_11"><circle class="ci w" cy="1520" r="43.7"/></g>
</g>
<g id="col29" transform="translate(6640,0)">
<g id="box29"><rect class="bx" x="-79.5" y="40" width="159" height="80"/><text class="t" y="84">comservice2,</text></g>
<g id="n29_0"><circle class="ci p" cy="200" r="43.7"/></g><g id="n29_1"><circle class="ci w" cy="320" r="43.7"/></g><g id="n29_2"><circle class="ci p" cy="440" r="43.7"/></g><g id="n29_3"><circle class="ci w" cy="560" r="43.7"/></g><g id="n29_4"><circle class="ci w" cy="680" r="43.7"/></g><g id="n29_5"><circle class="ci p" cy="800" r="43.7"/></g>
<g id="n29_6"><circle class="ci w" cy="920" r="43.7"/></g><g id="n29_7"><circle class="ci w" cy="1040" r="43.7"/></g><g id="n29_8"><circle class="ci w" cy="1160" r="43.7"/></g><g id="n29_9"><circle class="ci w" cy="1280" r="43.7"/></g><g id="n29_10"><circle class="ci w" cy="1400" r="43.7"/></g><g id="n29_11"><circle class="ci w" cy="1520" r="43.7"/></g>
</g>
<g id="col30" transform="translate(6864,0)">
<g id="box30"><rect class="bx" x="-79.5" y="40" width="159" height="80"/><text class="t" y="84">comservice1,</text></g>
<g id="n30_0"><circle class="ci p" cy="200" r="43.7"/></g><g id="n30_1"><circle class="ci w" cy="320" r="43.7"/></g><g id="n30_2"><circle class="ci p" cy="440" r="43.7"/></g><g id="n30_3"><circle class="ci w" cy="560" r="43.7"/></g><g id="n30_4"><circle class="ci w" cy="680" r="43.7"/></g><g id="n30_5"><circle class="ci p" cy="800" r="43.7"/></g>
<g id="n30_6"><circle class="ci w" cy="920" r="43.7"/></g><g id="n30_7"><circle class="ci w" cy="1040" r="43.7"/></g><g id="n30_8"><circle class="ci w" cy="1160" r="43.7"/></g><g id="n30_9"><circle class="ci w" cy="1280" r="43.7"/></g><g id="n30_10"><circle class="ci w" cy="1400" r="43.7"/></g><g id="n30_11"><circle class="ci w" cy="1520" r="43.7"/></g>
</g>
</g>
</g>
</svg>
